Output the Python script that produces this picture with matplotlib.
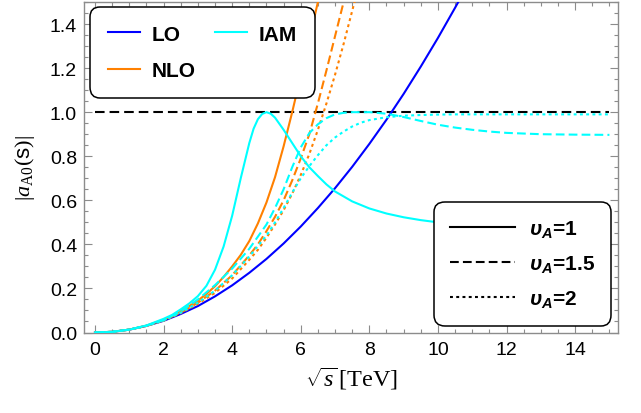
import matplotlib
matplotlib.use("Agg")
import matplotlib.pyplot as plt
from matplotlib.ticker import MultipleLocator

plt.rcParams['font.family'] = ['Liberation Sans', 'DejaVu Sans']
plt.rcParams['mathtext.fontset'] = 'custom'
plt.rcParams['mathtext.rm'] = 'Liberation Serif'
plt.rcParams['mathtext.it'] = 'Liberation Serif:italic'
plt.rcParams['mathtext.sf'] = 'Liberation Sans'
plt.rcParams['mathtext.bf'] = 'Liberation Sans:bold:italic'

# ---- data ----
x_lo = [0, 0.5, 1, 1.5, 2, 2.5, 3, 3.5, 4, 4.5, 5, 5.5, 6, 6.5, 7, 7.5, 8, 8.5, 9, 9.5, 10, 10.5, 10.7]
y_lo = [0, 0.003, 0.013, 0.030, 0.053, 0.084, 0.120, 0.164, 0.214, 0.271, 0.334, 0.404, 0.481,
        0.565, 0.655, 0.752, 0.856, 0.966, 1.083, 1.207, 1.337, 1.474, 1.53]

x_nlo = [0, 0.5, 1, 1.5, 2, 2.25, 2.5, 2.75, 3, 3.25, 3.5, 3.75, 4, 4.25, 4.5, 4.75, 5, 5.25,
         5.5, 5.75, 6, 6.25, 6.5, 6.55]
y_nlo_1 = [0, 0.003, 0.013, 0.031, 0.058, 0.075, 0.097, 0.12, 0.145, 0.175, 0.21, 0.252, 0.30, 0.352,
           0.415, 0.495, 0.59, 0.705, 0.845, 1.0, 1.165, 1.33, 1.50, 1.53]

x_nlo_15 = [0, 0.5, 1, 1.5, 2, 2.5, 3, 3.5, 4, 4.5, 4.75, 5, 5.25, 5.5, 5.75, 6, 6.25, 6.5, 6.75, 7, 7.25, 7.3]
y_nlo_15 = [0, 0.003, 0.013, 0.030, 0.055, 0.090, 0.135, 0.19, 0.26, 0.35, 0.40, 0.46, 0.525, 0.60,
            0.69, 0.79, 0.90, 1.04, 1.19, 1.345, 1.50, 1.53]

x_nlo_2 = [0, 0.5, 1, 1.5, 2, 2.5, 3, 3.5, 4, 4.5, 4.75, 5, 5.25, 5.5, 5.75, 6, 6.25, 6.5, 6.75, 7,
           7.25, 7.5, 7.6]
y_nlo_2 = [0, 0.003, 0.013, 0.030, 0.054, 0.088, 0.13, 0.18, 0.245, 0.33, 0.375, 0.43, 0.49, 0.555,
           0.63, 0.715, 0.81, 0.92, 1.04, 1.17, 1.31, 1.46, 1.52]

x_iam = [0, 0.5, 1, 1.5, 2, 2.25, 2.5, 2.75, 3, 3.25, 3.5, 3.75, 4, 4.25, 4.5, 4.625, 4.75, 4.875, 5,
         5.125, 5.25, 5.5, 5.75, 6, 6.25, 6.5, 6.75, 7, 7.5, 8, 8.5, 9, 9.5, 10, 11, 12, 13, 14, 15]
y_iam_1 = [0, 0.003, 0.013, 0.032, 0.062, 0.08, 0.105, 0.132, 0.165, 0.212, 0.285, 0.39, 0.53,
           0.70, 0.86, 0.925, 0.968, 0.992, 1.0, 0.993, 0.975, 0.92, 0.86, 0.80, 0.75, 0.71, 0.672, 0.64,
           0.595, 0.563, 0.54, 0.523, 0.51, 0.50, 0.485, 0.477, 0.471, 0.467, 0.464]

x_iam_r = [0, 0.5, 1, 1.5, 2, 2.5, 3, 3.5, 4, 4.5, 5, 5.25, 5.5, 5.75, 6, 6.25, 6.5, 6.75, 7, 7.25,
           7.5, 7.75, 8, 8.5, 9, 9.5, 10, 10.5, 11, 11.5, 12, 13, 14, 15]
y_iam_15 = [0, 0.003, 0.013, 0.031, 0.056, 0.095, 0.15, 0.215, 0.29, 0.38, 0.49, 0.565, 0.65, 0.75,
            0.84, 0.905, 0.945, 0.973, 0.99, 0.997, 1.0, 1.0, 1.0, 0.993, 0.978, 0.96, 0.943, 0.93,
            0.92, 0.912, 0.906, 0.90, 0.898, 0.897]
y_iam_2 = [0, 0.003, 0.013, 0.030, 0.055, 0.09, 0.135, 0.19, 0.26, 0.345, 0.44, 0.50, 0.565, 0.635,
           0.70, 0.755, 0.805, 0.85, 0.885, 0.912, 0.935, 0.952, 0.964, 0.977, 0.984, 0.987, 0.989,
           0.99, 0.99, 0.99, 0.99, 0.99, 0.99, 0.99]

x_unit = [0, 15]
y_unit = [1, 1]

legend1_labels = ['LO', 'NLO', 'IAM']
legend2_labels = [r'$\mathbf{\upsilon_A}$=1', r'$\mathbf{\upsilon_A}$=1.5', r'$\mathbf{\upsilon_A}$=2']

# ---- styling ----
BLUE = '#0000ff'
ORANGE = '#ff8000'
CYAN = '#00ffff'
LW = 1.5
DASH = (0, (4.2, 2.0))
DOT = (0, (1.4, 1.6))

fig = plt.figure(figsize=(6.41, 4.14), dpi=100)
ax = fig.add_axes([84 / 641, (414 - 333.5) / 414, 534 / 641, 330.5 / 414])

ax.plot(x_unit, y_unit, color='black', lw=LW, linestyle=(0, (4.6, 2.4)), zorder=1)

h_lo, = ax.plot(x_lo, y_lo, color=BLUE, lw=LW, zorder=3)
h_nlo, = ax.plot(x_nlo, y_nlo_1, color=ORANGE, lw=LW, zorder=3)
ax.plot(x_nlo_15, y_nlo_15, color=ORANGE, lw=LW, linestyle=DASH, zorder=3)
ax.plot(x_nlo_2, y_nlo_2, color=ORANGE, lw=LW, linestyle=DOT, zorder=3)
h_iam, = ax.plot(x_iam, y_iam_1, color=CYAN, lw=LW, zorder=3)
ax.plot(x_iam_r, y_iam_15, color=CYAN, lw=LW, linestyle=DASH, zorder=3)
ax.plot(x_iam_r, y_iam_2, color=CYAN, lw=LW, linestyle=DOT, zorder=3)

ax.set_xlim(-0.32, 15.25)
ax.set_ylim(0, 1.5)

ax.xaxis.set_major_locator(MultipleLocator(2))
ax.xaxis.set_minor_locator(MultipleLocator(0.5))
ax.yaxis.set_major_locator(MultipleLocator(0.2))
ax.yaxis.set_minor_locator(MultipleLocator(0.05))
ax.set_xticks([0, 2, 4, 6, 8, 10, 12, 14])
ax.set_yticks([0.0, 0.2, 0.4, 0.6, 0.8, 1.0, 1.2, 1.4])
ax.set_yticklabels(['0.0', '0.2', '0.4', '0.6', '0.8', '1.0', '1.2', '1.4'])

GRAY = '#8c8c8c'
for s in ax.spines.values():
    s.set_color(GRAY)
    s.set_linewidth(1.0)
ax.tick_params(which='both', direction='in', top=True, right=True, color=GRAY, width=0.8,
               labelsize=14, labelcolor='black')
ax.tick_params(which='major', length=6)
ax.tick_params(which='minor', length=3)
ax.tick_params(axis='x', which='major', pad=6)
ax.tick_params(axis='y', which='major', pad=5)

ax.set_xlabel(r'$\sqrt{s}\,\mathrm{[TeV]}$', fontsize=17.5, labelpad=5)
ax.set_ylabel(r'$|a_{\mathrm{A0}}(\mathsf{s})|$', fontsize=16, labelpad=9)

leg1 = ax.legend([h_lo, h_nlo, h_iam], legend1_labels, ncol=2, loc='upper left',
                 bbox_to_anchor=(0.011, 0.985), borderaxespad=0,
                 prop={'family': 'Liberation Sans', 'weight': 'bold', 'size': 15},
                 handlelength=1.55, handletextpad=0.55, columnspacing=0.95, labelspacing=0.83,
                 borderpad=0.85, frameon=True, fancybox=True, framealpha=1, edgecolor='black')
leg1.get_frame().set_linewidth(1.1)
leg1.get_frame().set_boxstyle('round', pad=0, rounding_size=0.5)
ax.add_artist(leg1)

hs = [plt.Line2D([], [], color='black', lw=LW),
      plt.Line2D([], [], color='black', lw=LW, linestyle=DASH),
      plt.Line2D([], [], color='black', lw=LW, linestyle=DOT)]
leg2 = ax.legend(hs, legend2_labels, loc='lower right', bbox_to_anchor=(0.987, 0.02),
                 borderaxespad=0,
                 prop={'family': 'Liberation Sans', 'weight': 'bold', 'size': 15},
                 handlelength=3.1, handletextpad=0.65, labelspacing=0.66,
                 borderpad=0.78, frameon=True, fancybox=True, framealpha=1, edgecolor='black')
leg2.get_frame().set_linewidth(1.1)
leg2.get_frame().set_boxstyle('round', pad=0, rounding_size=0.5)
leg1.set_zorder(5)
leg2.set_zorder(5)

fig.savefig('out.png', dpi=100)
